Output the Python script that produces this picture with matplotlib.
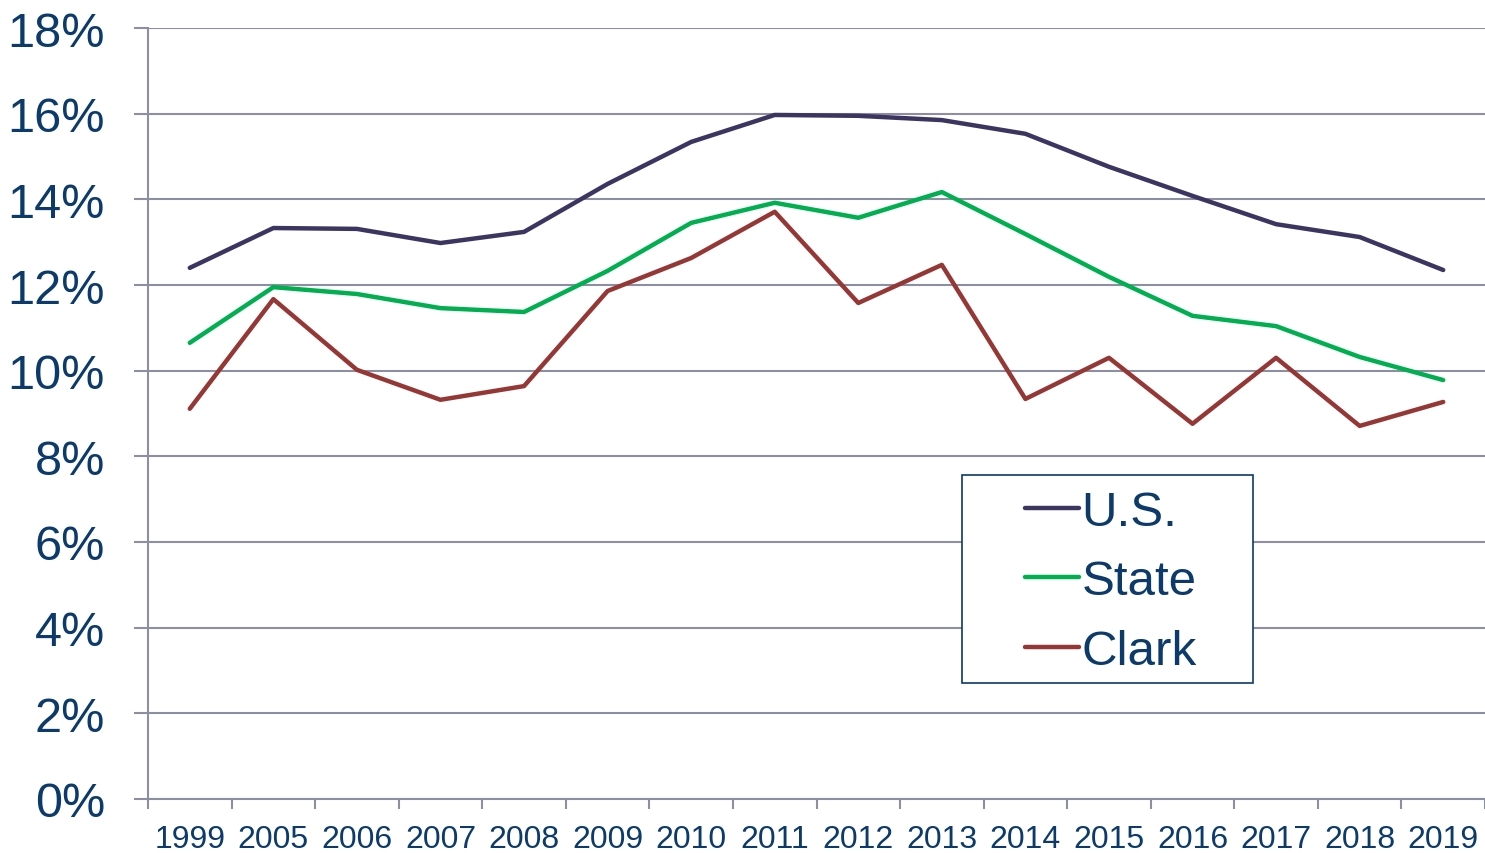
import matplotlib.pyplot as plt
from matplotlib.patches import Rectangle
from matplotlib.ticker import FuncFormatter

years = ["1999", "2005", "2006", "2007", "2008", "2009", "2010", "2011",
         "2012", "2013", "2014", "2015", "2016", "2017", "2018", "2019"]
us = [12.40, 13.33, 13.31, 12.98, 13.24, 14.36, 15.34, 15.97,
      15.95, 15.85, 15.53, 14.76, 14.08, 13.42, 13.12, 12.35]
state = [10.65, 11.95, 11.79, 11.46, 11.37, 12.33, 13.45, 13.92,
         13.57, 14.17, 13.19, 12.19, 11.28, 11.04, 10.32, 9.78]
clark = [9.11, 11.67, 10.02, 9.32, 9.64, 11.86, 12.63, 13.71,
         11.58, 12.47, 9.34, 10.30, 8.76, 10.30, 8.71, 9.27]

text_color = "#0b3a6b"
grid_color = "#8c8fa0"

plt.rcParams['font.family'] = ['Liberation Sans', 'DejaVu Sans']

W, H = 1485, 854
fig = plt.figure(figsize=(W / 100, H / 100), dpi=100)
ax = fig.add_axes([148 / W, 1 - 800 / H, 1 - 148 / W, (800 - 29) / H])

x = list(range(len(years)))
ax.plot(x, us, color="#3b3560", lw=3.2, label="U.S.", solid_capstyle="round")
ax.plot(x, state, color="#00b050", lw=3.2, label="State", solid_capstyle="round")
ax.plot(x, clark, color="#953735", lw=3.2, label="Clark", solid_capstyle="round")

ax.set_xlim(-0.5, len(years) - 0.5)
ax.set_ylim(0, 18)
ax.set_yticks(range(0, 19, 2))
ax.yaxis.set_major_formatter(FuncFormatter(lambda v, p: f"{int(v)}%"))
ax.set_xticks(x)
ax.set_xticklabels(years)
ax.set_xticks([i + 0.5 for i in range(-1, len(years))], minor=True)

ax.grid(axis="y", color=grid_color, lw=1.5)
ax.set_axisbelow(True)
for side in ["top", "right"]:
    ax.spines[side].set_visible(False)
for side in ["left", "bottom"]:
    ax.spines[side].set_color(grid_color)
    ax.spines[side].set_linewidth(1.5)

ax.tick_params(axis="y", length=10, width=1.5, color=grid_color,
               labelsize=35, labelcolor=text_color, pad=21)
ax.tick_params(axis="x", which="major", length=0, labelsize=23,
               labelcolor=text_color, pad=18)
ax.tick_params(axis="x", which="minor", length=7, width=1.5, color=grid_color)

# legend box drawn separately so the side padding can be wider than top/bottom
box = Rectangle((962 / W, 1 - 684 / H), (1253 - 962) / W, (684 - 476) / H,
                transform=fig.transFigure, facecolor="white",
                edgecolor=text_color, lw=1.2, zorder=5, clip_on=False)
ax.add_patch(box)
leg = ax.legend(loc="upper left", bbox_to_anchor=(1010 / W, 1 - 476 / H),
                bbox_transform=fig.transFigure, borderaxespad=0,
                fontsize=35.5, frameon=False,
                handlelength=1.1, handletextpad=0.05, labelspacing=0.5,
                borderpad=0.3)
leg.set_zorder(6)
for t in leg.get_texts():
    t.set_color(text_color)

fig.savefig("out.png", dpi=100)
